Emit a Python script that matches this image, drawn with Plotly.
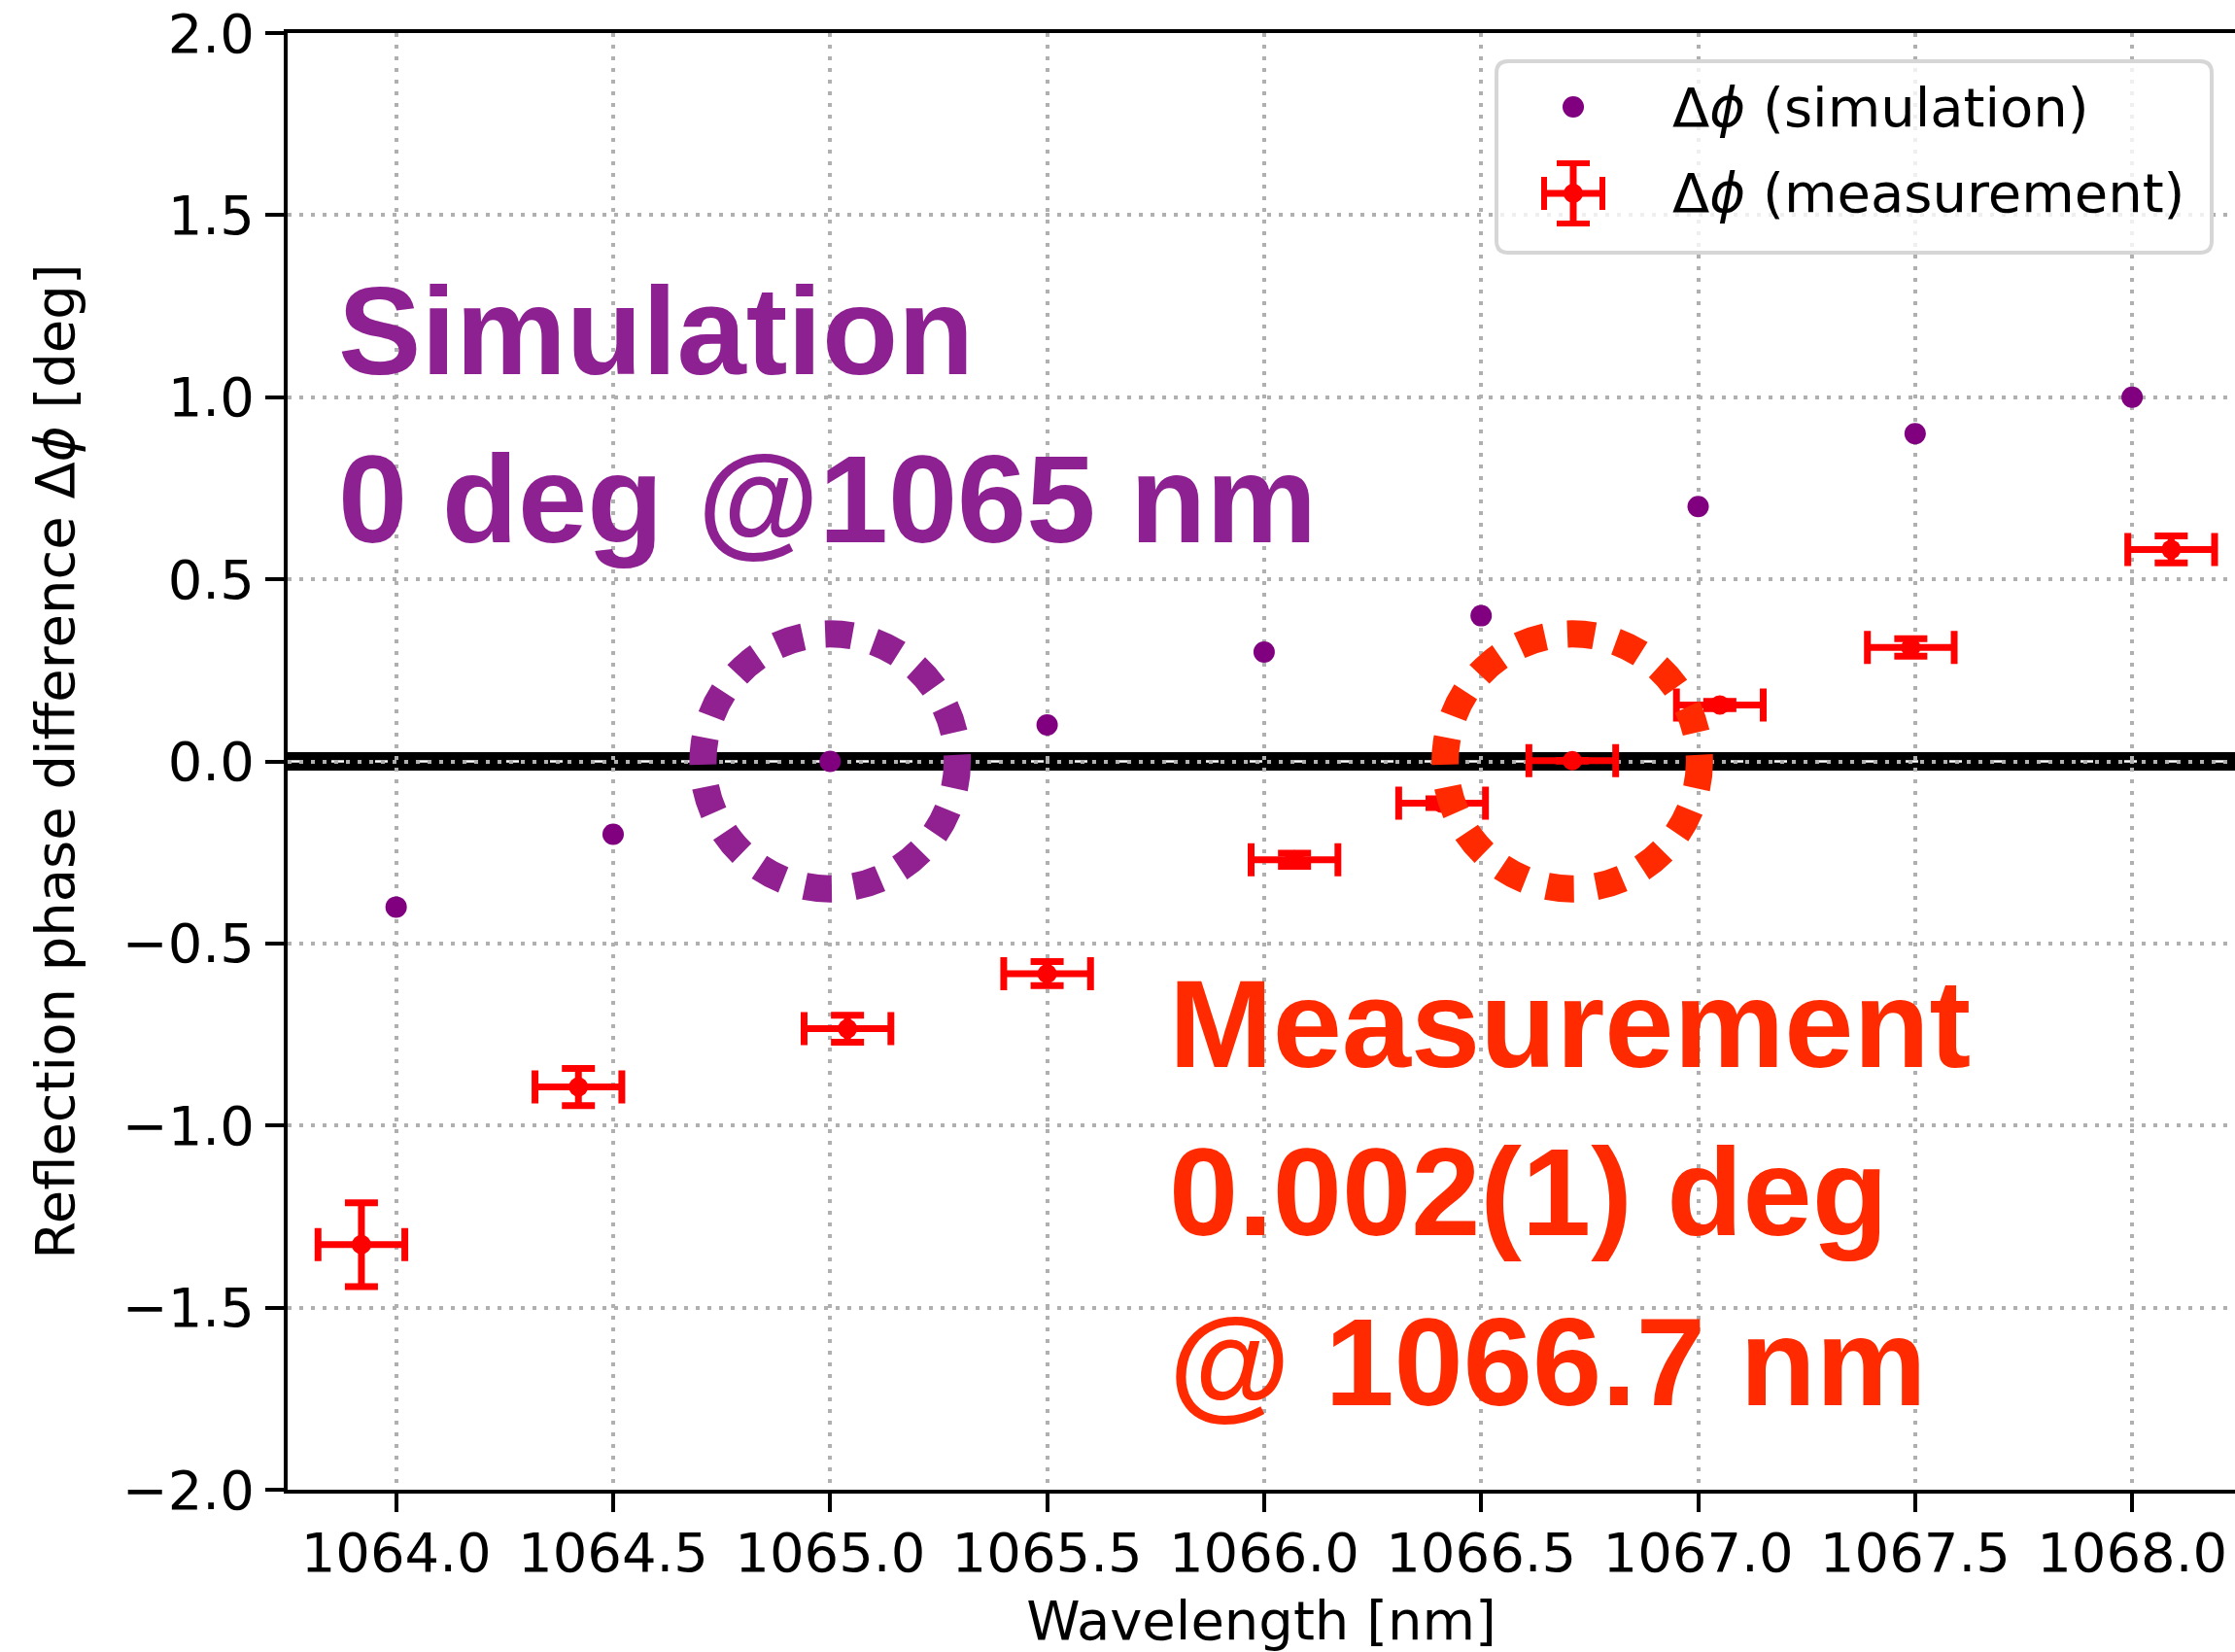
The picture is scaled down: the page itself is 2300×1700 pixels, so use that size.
import plotly.graph_objects as go

# ---- data -------------------------------------------------------------
# simulated reflection phase difference
sim_wavelength = [1064.0, 1064.5, 1065.0, 1065.5, 1066.0, 1066.5, 1067.0, 1067.5, 1068.0]
sim_dphi = [-0.4, -0.2, 0.0, 0.1, 0.3, 0.4, 0.7, 0.9, 1.0]

# measured reflection phase difference with uncertainties
meas_wavelength = [1063.92, 1064.42, 1065.04, 1065.50, 1066.07, 1066.41, 1066.71, 1067.05, 1067.49, 1068.09]
meas_dphi = [-1.327, -0.894, -0.734, -0.583, -0.270, -0.115, 0.002, 0.155, 0.313, 0.582]
meas_wavelength_err = [0.1, 0.1, 0.1, 0.1, 0.1, 0.1, 0.1, 0.1, 0.1, 0.1]
meas_dphi_err = [0.115, 0.051, 0.037, 0.033, 0.018, 0.012, 0.001, 0.010, 0.024, 0.037]

# zero crossings highlighted by circles
sim_zero_wavelength = 1065.0
meas_zero_wavelength = 1066.71

x_ticks = [1064.0, 1064.5, 1065.0, 1065.5, 1066.0, 1066.5, 1067.0, 1067.5, 1068.0]
y_ticks = [-2.0, -1.5, -1.0, -0.5, 0.0, 0.5, 1.0, 1.5, 2.0]

sim_lines = ["Simulation", "0 deg @1065 nm"]
meas_lines = ["Measurement", "0.002(1) deg", "@ 1066.7 nm"]
legend_labels = ["Δ<i>ϕ</i> (simulation)", "Δ<i>ϕ</i> (measurement)"]

# ---- styling ----------------------------------------------------------
W, H = 2300, 1700
ML, MR, MT, MB = 296, 0, 34, 167
PW, PH = W - ML - MR, H - MT - MB

PURPLE = "#800080"
RED = "#ff0000"
CIRCLE_PURPLE = "#912091"
CIRCLE_RED = "#ff2a00"
TEXT_PURPLE = "#8e2192"
TEXT_RED = "#ff2a00"
GRID = "#b0b0b0"
TICK_FONT = dict(family="DejaVu Sans", size=56, color="black")
BIG_FONT = "Liberation Sans, Arial, sans-serif"


def fx(px):
    """Horizontal pixel position -> fraction of the plot area."""
    return (px - ML) / PW


def fy(py):
    """Vertical pixel position -> fraction of the plot area."""
    return (MT + PH - py) / PH


fig = go.Figure()

fig.add_trace(go.Scatter(
    x=sim_wavelength, y=sim_dphi, mode="markers",
    marker=dict(color=PURPLE, size=22, line=dict(width=0)),
    showlegend=False,
))

fig.add_trace(go.Scatter(
    x=meas_wavelength, y=meas_dphi, mode="markers",
    marker=dict(color=RED, size=20, line=dict(width=0)),
    error_x=dict(type="data", array=meas_wavelength_err, color=RED, thickness=7, width=17),
    error_y=dict(type="data", array=meas_dphi_err, color=RED, thickness=7, width=17),
    showlegend=False,
))

shapes = []

# thick zero reference line with a thin white dashed overlay
shapes.append(dict(type="line", xref="paper", x0=0, x1=1, yref="y", y0=0, y1=0,
                   line=dict(color="black", width=19), layer="between"))
shapes.append(dict(type="line", xref="paper", x0=0, x1=1, yref="y", y0=0, y1=0,
                   line=dict(color="white", width=2.5, dash="13px,32px"), layer="between"))

# dotted circles around the zero crossings
rx, ry = 0.293, 0.35
for cx, col in [(sim_zero_wavelength, CIRCLE_PURPLE), (meas_zero_wavelength, CIRCLE_RED)]:
    shapes.append(dict(type="circle", xref="x", yref="y",
                       x0=cx - rx, x1=cx + rx, y0=-ry, y1=ry,
                       line=dict(color=col, width=28, dash="28px,23px"),
                       fillcolor="rgba(0,0,0,0)", layer="above"))

# legend frame with rounded corners
bx0, bx1, by0, by1, r = 1540, 2276, 63, 260, 12
path = (f"M {fx(bx0 + r)},{fy(by0)} L {fx(bx1 - r)},{fy(by0)} "
        f"Q {fx(bx1)},{fy(by0)} {fx(bx1)},{fy(by0 + r)} "
        f"L {fx(bx1)},{fy(by1 - r)} Q {fx(bx1)},{fy(by1)} {fx(bx1 - r)},{fy(by1)} "
        f"L {fx(bx0 + r)},{fy(by1)} Q {fx(bx0)},{fy(by1)} {fx(bx0)},{fy(by1 - r)} "
        f"L {fx(bx0)},{fy(by0 + r)} Q {fx(bx0)},{fy(by0)} {fx(bx0 + r)},{fy(by0)} Z")
shapes.append(dict(type="path", xref="paper", yref="paper", path=path,
                   fillcolor="rgba(255,255,255,0.8)",
                   line=dict(color="#d6d6d6", width=4), layer="above"))

# legend glyphs
gx, row1, row2 = 1619, 110, 199
shapes.append(dict(type="circle", xref="paper", yref="paper",
                   x0=fx(gx - 11), x1=fx(gx + 11), y0=fy(row1 + 11), y1=fy(row1 - 11),
                   fillcolor=PURPLE, line=dict(width=0), layer="above"))
seg = dict(type="line", xref="paper", yref="paper", layer="above")
shapes.append({**seg, "x0": fx(gx - 30), "x1": fx(gx + 30), "y0": fy(row2), "y1": fy(row2),
               "line": dict(color=RED, width=7)})
shapes.append({**seg, "x0": fx(gx), "x1": fx(gx), "y0": fy(row2 - 31), "y1": fy(row2 + 31),
               "line": dict(color=RED, width=7)})
for dx in (-30, 30):
    shapes.append({**seg, "x0": fx(gx + dx), "x1": fx(gx + dx), "y0": fy(row2 - 17), "y1": fy(row2 + 17),
                   "line": dict(color=RED, width=6)})
for dy in (-31, 31):
    shapes.append({**seg, "x0": fx(gx - 17), "x1": fx(gx + 17), "y0": fy(row2 + dy), "y1": fy(row2 + dy),
                   "line": dict(color=RED, width=6)})
shapes.append(dict(type="circle", xref="paper", yref="paper",
                   x0=fx(gx - 10), x1=fx(gx + 10), y0=fy(row2 + 10), y1=fy(row2 - 10),
                   fillcolor=RED, line=dict(width=0), layer="above"))

annotations = []
for label, yy in zip(legend_labels, (row1, row2)):
    annotations.append(dict(xref="paper", yref="paper", x=fx(1719), y=fy(yy),
                            xanchor="left", yanchor="middle", showarrow=False,
                            text=label, font=TICK_FONT))

for line, yy in zip(sim_lines, (340, 513)):
    annotations.append(dict(xref="paper", yref="paper", x=fx(346), y=fy(yy),
                            xanchor="left", yanchor="middle", showarrow=False, text=line,
                            font=dict(family=BIG_FONT, size=128, color=TEXT_PURPLE, weight="bold")))
for line, yy in zip(meas_lines, (1053, 1226, 1401)):
    annotations.append(dict(xref="paper", yref="paper", x=fx(1201), y=fy(yy),
                            xanchor="left", yanchor="middle", showarrow=False, text=line,
                            font=dict(family=BIG_FONT, size=128, color=TEXT_RED, weight="bold")))

axis_common = dict(
    showline=True, linecolor="black", linewidth=4,
    ticks="outside", ticklen=19, tickwidth=3.5, tickcolor="black",
    showgrid=True, gridcolor=GRID, gridwidth=4, griddash="4px,8px",
    zeroline=False, tickfont=TICK_FONT,
)

fig.update_layout(
    width=W, height=H,
    margin=dict(l=ML, r=MR, t=MT, b=MB, pad=0),
    paper_bgcolor="white", plot_bgcolor="white",
    xaxis=dict(range=[1063.75, 1068.237], tickvals=x_ticks, tickformat=".1f",
               mirror=True, ticklabelstandoff=-6,
               title=dict(text="Wavelength [nm]", font=TICK_FONT, standoff=23),
               **axis_common),
    yaxis=dict(range=[-2.0, 2.0], tickvals=y_ticks, tickformat=".1f",
               title=dict(text="Reflection phase difference Δ<i>ϕ</i> [deg]", font=TICK_FONT, standoff=32),
               **axis_common),
    shapes=shapes,
    annotations=annotations,
    showlegend=False,
)

fig.write_html("out.html")
